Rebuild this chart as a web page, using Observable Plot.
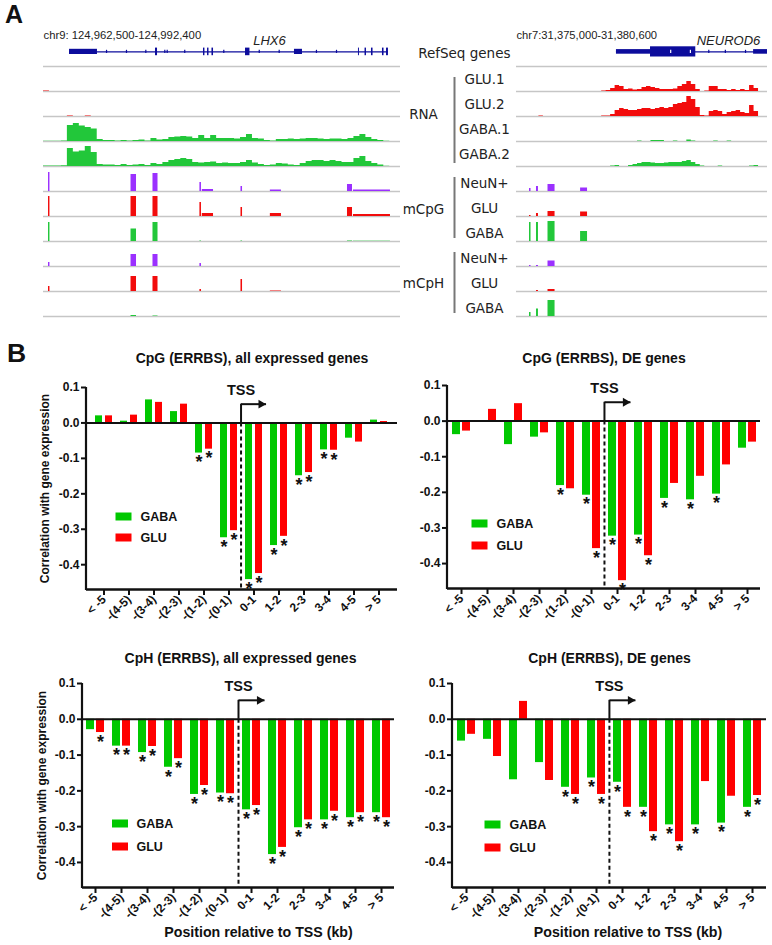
<!DOCTYPE html>
<html>
<head>
<meta charset="utf-8">
<script src="https://cdn.jsdelivr.net/npm/d3@7"></script>
<script src="https://cdn.jsdelivr.net/npm/@observablehq/plot@0.6"></script>
<style>
  html,body{margin:0;padding:0;background:#fff;}
  #root{position:relative;width:772px;height:945px;overflow:hidden;background:#fff;}
  #root svg{position:absolute;overflow:visible;}
  .panel-letter{position:absolute;font-family:Arial,"Liberation Sans",sans-serif;font-weight:bold;color:#111;line-height:1;}
</style>
</head>
<body>
<div id="root"></div>
<script>
// ======================= DATA =======================
// ---- Panel A: genome browser tracks ----
const trackIds   = ["GLU.1","GLU.2","GABA.1","GABA.2","mCpG NeuN+","mCpG GLU","mCpG GABA","mCpH NeuN+","mCpH GLU","mCpH GABA"];
const trackNames = ["GLU.1","GLU.2","GABA.1","GABA.2","NeuN+","GLU","GABA","NeuN+","GLU","GABA"];
const trackCells = ["GLU","GLU","GABA","GABA","NeuN+","GLU","GABA","NeuN+","GLU","GABA"];
const groupNames = ["RNA","mCpG","mCpH"];
const geneTrackName = "RefSeq genes";

// left locus (LHX6), kb from locus start
const leftLocus = "chr9: 124,962,500-124,992,400";
const leftGene = "LHX6";
const leftSpanKb = 29.9;
const leftBinKb = 0.5;
const leftGeneLabelAt = 18.93;
const leftExonStart = [2.18, 9.38, 13.40, 13.74, 14.11, 16.92, 21.02, 26.38, 26.93, 27.47, 28.39, 28.73];
const leftExonEnd   = [4.52, 9.55, 13.52, 13.86, 14.24, 17.29, 21.69, 26.46, 27.05, 27.60, 28.52, 28.89];
const leftExonType  = ["utr","cds","cds","cds","cds","cds","utr","cds","cds","cds","cds","cds"];
const leftStrand    = [5.28, 6.95, 8.57, 10.16, 10.36, 11.83, 15.1, 18.07, 19.74, 22.86, 24.54];
const leftRnaGLU1 = [0.6,0,0,0,0,0,0,0,0,0, 0,0,0,0,0,0,0,0,0,0, 0,0,0,0,0,0,0,0,0,0, 0,0,0,0,0,0,0,0,0,0, 0,0,0,0,0,0,0,0,0,0, 0,0,0,0,0,0,0,0,0,0];
const leftRnaGLU2 = [0,0,0,0,0.6,0,0,0.6,0,0, 0,0,0,0,0,0,0,0,0,0, 0,0,0,0,0,0,0,0,0,0, 0,0,0,0,0,0,0,0,0,0, 0,0,0,0,0,0,0,0,0,0, 0,0,0,0,0,0,0,0,0,0];
const leftRnaGABA1 = [0.3,0.3,0.3,0.5,16,18,15.5,14,12.5,2, 1,1,0.5,1,0.5,1,1.5,0.5,3,1.5, 2,4,4.5,5,4.5,3,6,3,6,3, 3,3,2.5,4,7,3,2.5,1,0.5,2, 2,2.5,2,2.5,3,3,2.5,2,2.5,2.5, 2,3,5,7,4,2,1,0.3,0,0];
const leftRnaGABA2 = [0.5,0.5,0.5,0.8,18,14.5,15.5,20,14,2, 1.5,1.5,1,2,1,1.5,2,1,3,2, 4,6,7,8,7,4,3.5,4,4.5,3, 3.5,3,3,4,6,3.5,2,1,1.5,3, 2.5,1.5,1,3,5,6,6,5,6,5, 4,4,8,10,5,3,1.5,0.3,0,0];
const leftSiteStart = [0.42, 7.33, 9.17, 13.10, 13.30, 16.54, 19.00, 25.46, 25.96];
const leftSiteEnd   = [0.54, 7.79, 9.59, 13.23, 14.24, 16.67, 19.93, 25.88, 29.06];
const leftCpgNeuN = [19, 17, 18, 9, 2, 5, 1.5, 7, 1.5];
const leftCpgGLU  = [20, 20, 20, 14, 3, 9, 3, 9, 2];
const leftCpgGABA = [19, 12.5, 19, 0.5, 0, 0.5, 0, 0.5, 0.3];
const leftCphNeuN = [4, 12, 12, 3, 0, 0, 0, 0, 0];
const leftCphGLU  = [5, 15, 15, 2, 0, 12, 0.5, 0, 0];
const leftCphGABA = [0, 1, 0.5, 0, 0, 0, 0, 0, 0];

// right locus (NEUROD6)
const rightLocus = "chr7:31,375,000-31,380,600";
const rightGene = "NEUROD6";
const rightSpanKb = 5.6;
const rightBinKb = 0.1;
const rightGeneLabelAt = 4.73;
const rightExonStart = [2.23, 2.99, 5.29];
const rightExonEnd   = [2.99, 4.00, 5.60];
const rightExonType  = ["utr","cds","utr"];
const rightStrand    = [3.44, 3.88, 4.29, 4.66, 5.11];
const rightRnaGLU1 = [0,0,0,0,0,0,0,0,0,0, 0,0,0,0,0,0,0,0,0,0.5, 1,3,6,5,2,2.5,1.5,2,4,5, 4,3,2,2,2,2.5,5,7,10,7, 2,0,0.5,5,5,2,2,1,2,1, 2,1,6,3,0,0];
const rightRnaGLU2 = [0,0,0,0,0,0.5,0,0,0,0, 0,0,0,0,0,0,0,0,0,0.5, 0.5,2,6,8,7,6,6,7,8,8, 7,8,9,8,9,12,13,14,20,17, 9,1,0.5,5,6,5,2,4,5,6, 4,3,11,5,0,0];
const rightRnaGABA1 = [0,0,0,0,0,0,0,0,0,0, 0,0,0,0,0,0,0,0,0,0, 0,0,0,0,0,0,0,0.5,0,0, 1,1,1,0,0,0.5,0,0,1.5,0.5, 0,0,0,0,0.5,0,0,0.5,0,0, 0,0,0,0,0,0];
const rightRnaGABA2 = [0,0,0,0,0,0,0,0,0,0, 0,0,0,0,0,0,0,0,0,0, 0,0.5,1,0,0,1,2,3,4,4, 3.5,3,3,3.5,4,4,4,5,6,4, 2,0.5,0,0,0,0.5,0,0,0,0, 0,0,0.5,1,0,0];
const rightSiteStart = [0.29, 0.446, 0.703, 1.43];
const rightSiteEnd   = [0.324, 0.49, 0.86, 1.585];
const rightCpgNeuN = [3, 5, 7, 3.5];
const rightCpgGLU  = [1, 3, 5, 4.5];
const rightCpgGABA = [19, 19, 20, 10];
const rightCphNeuN = [1, 1, 5.5, 0];
const rightCphGLU  = [0, 1, 2, 0];
const rightCphGABA = [4, 7.5, 16, 0];

// ---- Panel B: correlation with gene expression ----
const tssBins = ["< -5","-(4-5)","-(3-4)","-(2-3)","-(1-2)","-(0-1)","0-1","1-2","2-3","3-4","4-5","> 5"];
const yTicks = [0.1, 0.0, -0.1, -0.2, -0.3, -0.4];
const cellTypes = ["GABA","GLU"];
const yLabel = "Correlation with gene expression";
const xLabel = "Position relative to TSS (kb)";
const tssLabel = "TSS";

const cpgAllTitle = "CpG (ERRBS), all expressed genes";
const cpgAllGABA = [0.020, 0.005, 0.065, 0.032, -0.085, -0.324, -0.442, -0.346, -0.149, -0.076, -0.043, 0.008];
const cpgAllGLU  = [0.020, 0.022, 0.058, 0.053, -0.074, -0.304, -0.425, -0.320, -0.140, -0.077, -0.054, 0.004];
const cpgAllGABASig = [0,0,0,0,1,1,1,1,1,1,0,0];
const cpgAllGLUSig  = [0,0,0,0,1,1,1,1,1,1,0,0];

const cpgDETitle = "CpG (ERRBS), DE genes";
const cpgDEGABA = [-0.038, -0.003, -0.066, -0.045, -0.181, -0.208, -0.323, -0.320, -0.217, -0.221, -0.205, -0.076];
const cpgDEGLU  = [-0.028, 0.033, 0.049, -0.033, -0.190, -0.358, -0.448, -0.378, -0.175, -0.155, -0.123, -0.059];
const cpgDEGABASig = [0,0,0,0,1,1,1,1,1,1,1,0];
const cpgDEGLUSig  = [0,0,0,0,0,1,1,1,0,0,0,0];

const cphAllTitle = "CpH (ERRBS), all expressed genes";
const cphAllGABA = [-0.029, -0.075, -0.093, -0.134, -0.210, -0.206, -0.253, -0.378, -0.303, -0.281, -0.275, -0.261];
const cphAllGLU  = [-0.037, -0.075, -0.076, -0.110, -0.185, -0.208, -0.241, -0.358, -0.281, -0.257, -0.261, -0.275];
const cphAllGABASig = [0,1,1,1,1,1,1,1,1,1,1,1];
const cphAllGLUSig  = [1,1,1,1,1,1,1,1,1,1,1,1];

const cphDETitle = "CpH (ERRBS), DE genes";
const cphDEGABA = [-0.061, -0.056, -0.169, -0.121, -0.190, -0.164, -0.176, -0.246, -0.295, -0.295, -0.290, -0.246];
const cphDEGLU  = [-0.042, -0.104, 0.050, -0.171, -0.210, -0.210, -0.246, -0.314, -0.342, -0.174, -0.215, -0.213];
const cphDEGABASig = [0,0,0,0,1,1,1,1,1,1,1,1];
const cphDEGLUSig  = [0,0,0,0,1,1,1,1,1,0,0,1];

// ======================= DRAWING =======================
const root = document.getElementById("root");
const INK = "#111";
const GENE_BLUE = "#0c0c9c";
const BAR_COLORS = ["#00c800", "#ff0000"];
const TRACK_COLORS = {domain: ["GLU","GABA","NeuN+"], range: ["#f20c0c","#22c73a","#9b30ff"]};

function place(el, left, top) {
  el.style.position = "absolute";
  el.style.left = left + "px";
  el.style.top = top + "px";
  root.appendChild(el);
}
function letter(t, left, top, size) {
  const d = document.createElement("div");
  d.className = "panel-letter";
  d.textContent = t;
  d.style.fontSize = size + "px";
  place(d, left, top);
}

const rowIds = ["gene", ...trackIds];
const GENE_Y = 14.6;

function browser(cfg) {
  const rnaData = cfg.rna.flatMap((vals, k) => {
    const track = trackIds[k], cell = trackCells[k];
    const pts = vals.map((v, i) => ({track, cell, pos: i * cfg.binKb, value: v}));
    pts.push({track, cell, pos: vals.length * cfg.binKb, value: 0});
    return pts;
  });
  const methData = cfg.meth.flatMap((vals, k) => {
    const track = trackIds[4 + k], cell = trackCells[4 + k];
    return vals.map((v, i) => ({track, cell, start: cfg.siteStart[i], end: cfg.siteEnd[i], value: v}));
  });
  const exons = cfg.exonStart.map((s, i) => ({start: s, end: cfg.exonEnd[i], type: cfg.exonType[i]}));
  const geneSpan = [[d3.min(cfg.exonStart), d3.max(cfg.exonEnd)]];
  const inExon = p => exons.some(e => p >= e.start && p <= e.end);
  const gene = () => "gene";
  const marks = [
    Plot.ruleY(rowIds, {fy: d => d, y: 0, stroke: "#c6c6c6", strokeWidth: 1.4}),
    Plot.areaY(rnaData, {fy: "track", x: "pos", y: "value", z: "track", fill: "cell", curve: "step-after"}),
    Plot.rectY(methData, {fy: "track", x1: "start", x2: "end", y: "value", fill: "cell"}),
    Plot.ruleY(geneSpan, {fy: gene, y: GENE_Y, x1: d => d[0], x2: d => d[1], stroke: GENE_BLUE, strokeWidth: 1.3}),
    Plot.rect(exons, {fy: gene, x1: "start", x2: "end",
      y1: d => GENE_Y - cfg.exonHalf[d.type], y2: d => GENE_Y + cfg.exonHalf[d.type], fill: GENE_BLUE}),
    Plot.ruleX(cfg.strand.filter(p => !inExon(p)), {fy: gene, x: d => d, y1: GENE_Y - 1.6, y2: GENE_Y + 1.6, stroke: GENE_BLUE, strokeWidth: 1.2}),
    Plot.ruleX(cfg.strand.filter(p => inExon(p)), {fy: gene, x: d => d, y1: GENE_Y - 1.6, y2: GENE_Y + 1.6, stroke: "#fff", strokeWidth: 1.2}),
    Plot.text([cfg.locus], {fy: gene, text: d => d, frameAnchor: "top-left", dy: -6.3, textAnchor: "start", lineAnchor: "middle",
      fontFamily: 'Arial, "Liberation Sans", sans-serif', fontSize: cfg.locusSize}),
    Plot.text([cfg.gene], {fy: gene, text: d => d, x: () => cfg.geneLabelAt, frameAnchor: "top", dy: -0.5, lineAnchor: "middle", textAnchor: "middle",
      fontFamily: 'Arial, "Liberation Sans", sans-serif', fontStyle: "italic", fontSize: 13})
  ];
  if (cfg.withLabels) {
    const nameOf = Object.fromEntries(trackIds.map((t, i) => [t, trackNames[i]]));
    marks.push(
      Plot.text(["gene"], {fy: d => d, text: () => geneTrackName, frameAnchor: "left", dx: -6, textAnchor: "end", lineAnchor: "middle"}),
      Plot.text(trackIds.slice(0, 4), {fy: d => d, text: d => nameOf[d], frameAnchor: "left", dx: -32, dy: 1, textAnchor: "middle", lineAnchor: "middle"}),
      Plot.text(trackIds.slice(4), {fy: d => d, text: d => nameOf[d], frameAnchor: "left", dx: -32, dy: 4.5, textAnchor: "middle", lineAnchor: "middle"}),
      Plot.text(["GLU.2"], {fy: d => d, text: () => groupNames[0], frameAnchor: "bottom-left", dx: -93, dy: -2, textAnchor: "middle", lineAnchor: "middle"}),
      Plot.text(["mCpG GLU"], {fy: d => d, text: () => groupNames[1], frameAnchor: "left", dx: -93, dy: 5.5, textAnchor: "middle", lineAnchor: "middle"}),
      Plot.text(["mCpH GLU"], {fy: d => d, text: () => groupNames[2], frameAnchor: "left", dx: -93, dy: 5, textAnchor: "middle", lineAnchor: "middle"}),
      Plot.ruleX(["GLU.1","mCpG NeuN+","mCpH NeuN+"], {fy: d => d, x: 0, dx: -62, insetTop: 11, stroke: "#777", strokeWidth: 2}),
      Plot.ruleX(["GLU.2","GABA.1","mCpG GLU","mCpH GLU"], {fy: d => d, x: 0, dx: -62, stroke: "#777", strokeWidth: 2}),
      Plot.ruleX(["GABA.2","mCpG GABA","mCpH GABA"], {fy: d => d, x: 0, dx: -62, insetBottom: 3, stroke: "#777", strokeWidth: 2})
    );
  }
  return Plot.plot({
    width: cfg.width, height: 322,
    marginLeft: cfg.marginLeft, marginRight: cfg.marginRight, marginTop: 37.3, marginBottom: 2,
    style: {fontFamily: '"DejaVu Sans", Verdana, sans-serif', fontSize: "13.5px", color: "#222", background: "transparent", overflow: "visible"},
    x: {domain: [0, cfg.spanKb], axis: null},
    y: {domain: [0, 25], axis: null},
    fy: {domain: rowIds, padding: 0, axis: null},
    color: TRACK_COLORS,
    marks
  });
}

const leftBrowser = browser({
  locus: leftLocus, gene: leftGene, geneLabelAt: leftGeneLabelAt, spanKb: leftSpanKb, binKb: leftBinKb,
  rna: [leftRnaGLU1, leftRnaGLU2, leftRnaGABA1, leftRnaGABA2],
  siteStart: leftSiteStart, siteEnd: leftSiteEnd,
  meth: [leftCpgNeuN, leftCpgGLU, leftCpgGABA, leftCphNeuN, leftCphGLU, leftCphGABA],
  exonStart: leftExonStart, exonEnd: leftExonEnd, exonType: leftExonType, strand: leftStrand,
  exonHalf: {utr: 2.6, cds: 3.8}, locusSize: 11.3,
  width: 400, marginLeft: 43, marginRight: 0, withLabels: false
});
place(leftBrowser, 0, 0);

const rightBrowser = browser({
  locus: rightLocus, gene: rightGene, geneLabelAt: rightGeneLabelAt, spanKb: rightSpanKb, binKb: rightBinKb,
  rna: [rightRnaGLU1, rightRnaGLU2, rightRnaGABA1, rightRnaGABA2],
  siteStart: rightSiteStart, siteEnd: rightSiteEnd,
  meth: [rightCpgNeuN, rightCpgGLU, rightCpgGABA, rightCphNeuN, rightCphGLU, rightCphGABA],
  exonStart: rightExonStart, exonEnd: rightExonEnd, exonType: rightExonType, strand: rightStrand,
  exonHalf: {utr: 2.3, cds: 5.1}, locusSize: 11.2,
  width: 372, marginLeft: 116, marginRight: 5, withLabels: true
});
place(rightBrowser, 400, 0);

// ---- Panel B charts ----
const Y_MIN = -0.47, Y_MAX = 0.1, ARROW_Y = 0.053;
const rectSym = {draw(ctx) { ctx.rect(-8, -4, 16, 8); }};

function barChart(spec, L) {
  const gRows = tssBins.map((b, i) => ({bin: b, cell: cellTypes[0], r: spec.gaba[i], sig: spec.gabaSig[i]}));
  const rRows = tssBins.map((b, i) => ({bin: b, cell: cellTypes[1], r: spec.glu[i], sig: spec.gluSig[i]}));
  const step = (L.width - L.mL - L.mR) / tssBins.length;
  const half = -step / 2;
  const axisLine = (index, scales, values, dims) => {
    const ln = document.createElementNS("http://www.w3.org/2000/svg", "line");
    ln.setAttribute("x1", dims.marginLeft); ln.setAttribute("x2", dims.marginLeft);
    ln.setAttribute("y1", scales.y(Y_MAX)); ln.setAttribute("y2", scales.y(Y_MIN) + 1);
    ln.setAttribute("stroke", INK); ln.setAttribute("stroke-width", 2.2);
    return ln;
  };
  const mid = {textAnchor: "middle", lineAnchor: "middle"};
  const marks = [
    Plot.barY(gRows, {x: "bin", y: "r", fill: "cell", insetRight: 10}),
    Plot.barY(rRows, {x: "bin", y: "r", fill: "cell", insetLeft: 10}),
    Plot.ruleY([0], {stroke: INK, strokeWidth: 2}),
    Plot.ruleY([Y_MIN], {stroke: INK, strokeWidth: 2.4}),
    axisLine,
    Plot.axisY({ticks: yTicks, tickFormat: d => d.toFixed(1), tickSize: 5, tickPadding: 2, strokeWidth: 2, label: null, fontSize: 12}),
    Plot.axisX({tickRotate: -45, tickSize: 6, tickPadding: 2, strokeWidth: 2, label: null, fontSize: 12}),
    // TSS marker
    Plot.ruleX(["0-1"], {x: d => d, y1: 0, y2: Y_MIN, dx: half, stroke: INK, strokeWidth: 2, strokeDasharray: "4,3"}),
    Plot.ruleX(["0-1"], {x: d => d, y1: 0, y2: ARROW_Y, dx: half, stroke: INK, strokeWidth: 2}),
    Plot.link([{a: "0-1", b: "1-2"}], {x1: "a", x2: "b", y1: () => ARROW_Y, y2: () => ARROW_Y, dx: half, stroke: INK, strokeWidth: 2}),
    Plot.dot(["1-2"], {x: d => d, y: () => ARROW_Y, dx: half - 5, symbol: "triangle", rotate: 90, r: 3.3, fill: INK, stroke: "none"}),
    Plot.text(["0-1"], {x: d => d, y: () => ARROW_Y, dx: half, dy: -14, text: () => tssLabel, fontSize: 14.5, ...mid}),
    // significance stars
    Plot.text(gRows.filter(d => d.sig), {x: "bin", y: "r", text: () => "*", dx: -5, dy: 2.5, textAnchor: "middle", lineAnchor: "top", fontSize: 18}),
    Plot.text(rRows.filter(d => d.sig), {x: "bin", y: "r", text: () => "*", dx: 5, dy: 2.5, textAnchor: "middle", lineAnchor: "top", fontSize: 18}),
    // title
    Plot.text([spec.title], {text: d => d, frameAnchor: "top", dx: L.titleDx, dy: L.titleDy, fontSize: 14, ...mid}),
    // legend
    Plot.dot([cellTypes[0]], {frameAnchor: "top-left", dx: L.lgDx, dy: L.lgDy[0], fill: d => d, stroke: "none", symbol: rectSym}),
    Plot.dot([cellTypes[1]], {frameAnchor: "top-left", dx: L.lgDx, dy: L.lgDy[1], fill: d => d, stroke: "none", symbol: rectSym}),
    Plot.text([cellTypes[0]], {text: d => d, frameAnchor: "top-left", dx: L.lgTx, dy: L.lgDy[0], textAnchor: "start", lineAnchor: "middle", fontSize: 12.5}),
    Plot.text([cellTypes[1]], {text: d => d, frameAnchor: "top-left", dx: L.lgTx, dy: L.lgDy[1], textAnchor: "start", lineAnchor: "middle", fontSize: 12.5})
  ];
  if (L.yLabDx != null) marks.push(Plot.text([yLabel], {text: d => d, frameAnchor: "left", dx: L.yLabDx, rotate: -90, fontSize: 12, ...mid}));
  if (L.xLabDx != null) marks.push(Plot.text([xLabel], {text: d => d, frameAnchor: "bottom", dx: L.xLabDx, dy: 45, fontSize: 14.2, ...mid}));
  const svg = Plot.plot({
    width: L.width, height: L.height,
    marginLeft: L.mL, marginRight: L.mR, marginTop: L.mT, marginBottom: L.mB,
    style: {fontFamily: 'Arial, "Liberation Sans", sans-serif', fontSize: "12px", fontWeight: "bold", color: INK, background: "transparent", overflow: "visible"},
    x: {domain: tssBins, paddingInner: 0.31, paddingOuter: 0.155},
    y: {domain: [Y_MIN, Y_MAX]},
    color: {domain: cellTypes, range: BAR_COLORS},
    marks
  });
  place(svg, L.left, L.top);
}

barChart({title: cpgAllTitle, gaba: cpgAllGABA, glu: cpgAllGLU, gabaSig: cpgAllGABASig, gluSig: cpgAllGLUSig},
  {left: 0, top: 330, width: 400, height: 301, mL: 86, mR: 3, mT: 57, mB: 42, titleDx: 10, titleDy: -29, lgDx: 37, lgTx: 54, lgDy: [129, 150], yLabDx: -41});
barChart({title: cpgDETitle, gaba: cpgDEGABA, glu: cpgDEGLU, gabaSig: cpgDEGABASig, gluSig: cpgDEGLUSig},
  {left: 400, top: 330, width: 372, height: 301, mL: 47, mR: 12, mT: 55, mB: 43, titleDx: 0, titleDy: -27, lgDx: 32, lgTx: 49, lgDy: [138, 160]});
barChart({title: cphAllTitle, gaba: cphAllGABA, glu: cphAllGLU, gabaSig: cphAllGABASig, gluSig: cphAllGLUSig},
  {left: 0, top: 630, width: 400, height: 315, mL: 82, mR: 6, mT: 53, mB: 58, titleDx: 2, titleDy: -25, lgDx: 37.5, lgTx: 54, lgDy: [140, 163], yLabDx: -40, xLabDx: 20});
barChart({title: cphDETitle, gaba: cphDEGABA, glu: cphDEGLU, gabaSig: cphDEGABASig, gluSig: cphDEGLUSig},
  {left: 400, top: 630, width: 372, height: 315, mL: 52, mR: 6, mT: 53, mB: 58, titleDx: 0, titleDy: -25, lgDx: 40, lgTx: 57, lgDy: [141, 164], xLabDx: 18.5});

letter("A", 5, 2, 25);
letter("B", 7, 340, 26.5);
</script>
</body>
</html>
